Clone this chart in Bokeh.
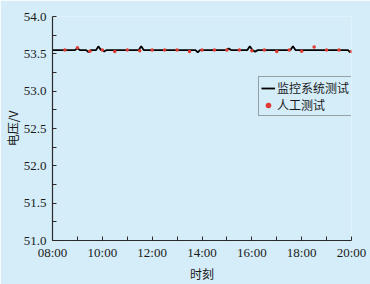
from bokeh.plotting import figure
from bokeh.models import FixedTicker, Legend, LegendItem, Range1d
from bokeh.embed import file_html
from bokeh.resources import INLINE

# ---- data ----
x_tick_hours = [8, 10, 12, 14, 16, 18, 20]
x_tick_labels = ["08:00", "10:00", "12:00", "14:00", "16:00", "18:00", "20:00"]
x_minor_hours = [9, 11, 13, 15, 17, 19]
y_ticks = [51.0, 51.5, 52.0, 52.5, 53.0, 53.5, 54.0]
y_minor = [51.25, 51.75, 52.25, 52.75, 53.25, 53.75]

# monitoring system (continuous record), hours / volts
monitor_t = [8.0, 8.9, 9.0, 9.1, 9.35, 9.44, 9.55, 9.75, 9.84, 9.95, 10.02, 10.08, 10.16,
             11.46, 11.56, 11.66, 13.74, 13.83, 13.92, 14.97, 15.07, 15.17,
             15.82, 15.92, 16.02, 16.13, 16.24, 17.55, 17.65, 17.75, 19.86, 19.95]
monitor_v = [53.55, 53.55, 53.575, 53.55, 53.55, 53.525, 53.55, 53.55, 53.60, 53.55, 53.55, 53.53, 53.55,
             53.55, 53.60, 53.55, 53.55, 53.52, 53.55, 53.55, 53.57, 53.55,
             53.55, 53.60, 53.55, 53.53, 53.55, 53.55, 53.60, 53.55, 53.55, 53.52]

# manual measurements every half hour
manual_t = [8.5, 9.0, 9.5, 10.0, 10.5, 11.0, 11.5, 12.0, 12.5, 13.0, 13.5, 14.0,
            14.5, 15.0, 15.5, 16.0, 16.5, 17.0, 17.5, 18.0, 18.5, 19.0, 19.5, 20.0]
manual_v = [53.55, 53.58, 53.535, 53.55, 53.53, 53.55, 53.54, 53.55, 53.55, 53.55, 53.53, 53.55,
            53.55, 53.55, 53.55, 53.54, 53.55, 53.53, 53.55, 53.535, 53.59, 53.55, 53.55, 53.53]

legend_labels = ["监控系统测试", "人工测试"]
x_title = "时刻"
y_title = "电压/V"

# ---- styles ----
BG = "#d5edf9"
AX = "#2b2b2b"
TXT = "#1a1a1a"
RED = "#e03a32"

p = figure(width=370, height=284, output_backend="svg", toolbar_location=None,
           x_range=Range1d(8, 20), y_range=Range1d(51, 54),
           background_fill_color=BG, border_fill_color=BG,
           min_border_left=51, min_border_right=19, min_border_top=16, min_border_bottom=44)
p.outline_line_color = None
p.xgrid.visible = False
p.ygrid.visible = False

r_line = p.line(monitor_t, monitor_v, line_color="black", line_width=1.8)
r_pts = p.scatter(manual_t, manual_v, size=3.5, fill_color=RED, line_color=None)

for ax in (p.xaxis[0], p.yaxis[0]):
    ax.axis_line_color = AX
    ax.axis_line_width = 1.2
    ax.major_tick_line_color = AX
    ax.minor_tick_line_color = AX
    ax.major_tick_in = 4
    ax.major_tick_out = 0
    ax.minor_tick_in = 4
    ax.minor_tick_out = 0
    ax.major_label_text_font = "Liberation Serif"
    ax.major_label_text_font_size = "13px"
    ax.major_label_text_color = TXT
    ax.axis_label_text_font = "Noto Sans CJK SC"
    ax.axis_label_text_font_size = "12px"
    ax.axis_label_text_font_style = "normal"
    ax.axis_label_text_color = TXT

p.xaxis.ticker = FixedTicker(ticks=x_tick_hours, minor_ticks=x_minor_hours)
p.xaxis.major_label_overrides = {h: s for h, s in zip(x_tick_hours, x_tick_labels)}
p.xaxis.axis_label = x_title
p.xaxis.major_label_standoff = 4
p.xaxis.axis_label_standoff = 2

p.yaxis.ticker = FixedTicker(ticks=y_ticks, minor_ticks=y_minor)
p.yaxis.major_label_overrides = {v: f"{v:.1f}" for v in y_ticks}
p.yaxis.axis_label = y_title
p.yaxis.major_label_standoff = 6
p.yaxis.axis_label_standoff = 0

legend = Legend(items=[LegendItem(label=legend_labels[0], renderers=[r_line]),
                       LegendItem(label=legend_labels[1], renderers=[r_pts])],
                location=(206, 124), orientation="vertical",
                background_fill_color=BG, background_fill_alpha=1.0,
                border_line_color="#555555", border_line_width=1,
                label_text_font="Noto Sans CJK SC", label_text_font_size="12px",
                label_text_color=TXT, glyph_width=14, glyph_height=16,
                label_standoff=2, padding=2, spacing=0, margin=0, label_height=16)
p.add_layout(legend)

open("out.html", "w").write(file_html(p, INLINE))
